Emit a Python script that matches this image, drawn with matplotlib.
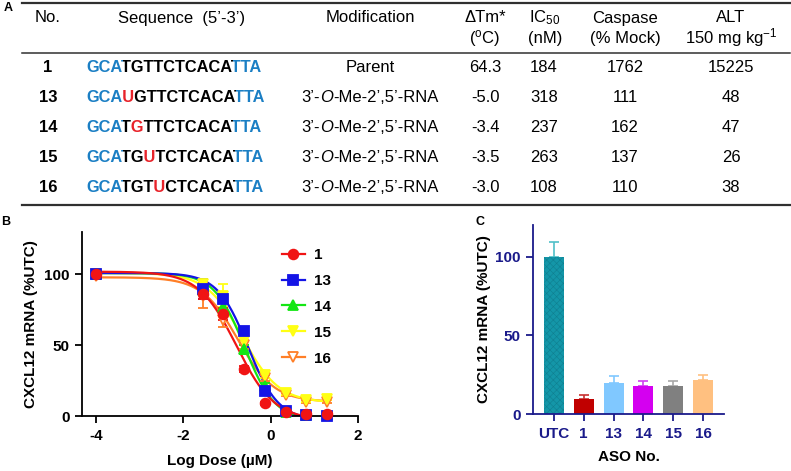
import numpy as np
import matplotlib
matplotlib.use("Agg")
import matplotlib.pyplot as plt
from matplotlib.lines import Line2D
from matplotlib.transforms import Bbox

plt.rcParams['font.family'] = ['Liberation Sans', 'DejaVu Sans']
plt.rcParams['mathtext.fontset'] = 'custom'
plt.rcParams['mathtext.rm'] = 'Liberation Sans'
plt.rcParams['mathtext.it'] = 'Liberation Sans:italic'
plt.rcParams['mathtext.bf'] = 'Liberation Sans:bold'
plt.rcParams['axes.unicode_minus'] = False
plt.rcParams['hatch.linewidth'] = 0.4

W, H = 791, 471

# ---- table (panel A)
aso_no = ['1', '13', '14', '15', '16']
sequences = ['GCATGTTCTCACATTA', 'GCAUGTTCTCACATTA', 'GCATGTTCTCACATTA',
             'GCATGUTCTCACATTA', 'GCATGTUCTCACATTA']
mod_pos = [None, 3, 4, 5, 6]
modification = ['Parent', 'mod', 'mod', 'mod', 'mod']
delta_tm = ['64.3', '-5.0', '-3.4', '-3.5', '-3.0']
ic50 = ['184', '318', '237', '263', '108']
caspase = ['1762', '111', '162', '137', '110']
alt = ['15225', '48', '47', '26', '38']

# ---- dose response (panel B)
log_dose = [-4, -1.56, -1.08, -0.61, -0.13, 0.35, 0.82, 1.3]
resp = {
    '1':  [100, 86, 72, 33, 9, 2.5, 1.5, 1.2],
    '13': [100, 90, 83, 60, 18, 3.5, 0.5, 0.3],
    '14': [100, 89, 77, 47, 21, 3, 1, 0.5],
    '15': [100, 93, 85, 53, 29, 16, 11, 12],
    '16': [99, 85, 68, 50, 27, 15, 10, 10],
}
resp_err = {
    '1':  [0, 3, 4, 2, 1, 1, 0.5, 0.5],
    '13': [0, 7, 3, 2, 2, 1, 0.5, 0.5],
    '14': [0, 3, 3, 3, 2, 1, 0.5, 0.5],
    '15': [0, 3, 8, 3, 2, 1, 1, 1],
    '16': [0, 9, 5, 3, 2, 1, 1, 1],
}
# 4PL fit parameters: top, bottom, logIC50, hill
fit_top = {'1': 102, '13': 101, '14': 101, '15': 101, '16': 98}
fit_bottom = {'1': -3, '13': -3, '14': -3, '15': 9.5, '16': 10}
fit_logic50 = {'1': -0.78, '13': -0.52, '14': -0.60, '15': -0.64, '16': -0.75}
fit_hill = {'1': 1.0, '13': 1.25, '14': 1.25, '15': 1.05, '16': 1.05}

series_colors = {'1': '#F01414', '13': '#1414E6', '14': '#14E614',
                 '15': '#FFFF14', '16': '#FF7F27'}
series_markers = {'1': 'o', '13': 's', '14': '^', '15': 'v', '16': 'v'}

# ---- bars (panel C)
bar_labels = ['UTC', '1', '13', '14', '15', '16']
bar_values = [100, 9.8, 20, 17.8, 18, 21.5]
bar_err = [9, 2.5, 4, 3.2, 3, 3]
bar_colors = ['#1496A8', '#C00000', '#80C8FF', '#D400F0', '#808080', '#FFC080']
err_colors = ['#50C0C8', '#C83030', '#80C8FF', '#D040F0', '#A8A8A8', '#FFC080']

BLUE = '#1B7FC4'
RED = '#E8232A'
NAVY = '#1A1A8A'

fig = plt.figure(figsize=(W / 100, H / 100), dpi=100)
renderer = fig.canvas.get_renderer()


def fx(x):
    return x / W


def fy(y):
    return 1 - y / H


def text_width(s, size, weight='normal', style='normal'):
    t = fig.text(0, 0, s, fontsize=size, fontweight=weight, fontstyle=style)
    w = t.get_window_extent(renderer=renderer).width
    t.remove()
    return w


def draw_colored_seq(x, y, seq, colors, size):
    # the whole string is drawn once per colour run and clipped to that run,
    # so the glyph spacing stays exactly that of the full word
    bounds = [x - 10]
    for k in range(1, len(seq)):
        bounds.append(x + text_width(seq[:k], size, 'bold') + 0.6)
    bounds.append(x + 400)
    k = 0
    while k < len(seq):
        m = k
        while m + 1 < len(seq) and colors[m + 1] == colors[k]:
            m += 1
        t = fig.text(fx(x), fy(y), seq, color=colors[k], fontsize=size,
                     fontweight='bold', va='center', ha='left')
        t.set_clip_box(Bbox([[bounds[k], 0], [bounds[m + 1], H]]))
        k = m + 1


def draw_runs(x, y, runs, size):
    # centred text made of pieces with different styles
    widths = [text_width(txt, size, wt, st) for txt, wt, st in runs]
    start = x - sum(widths) / 2
    for (txt, wt, st), w in zip(runs, widths):
        fig.text(fx(start), fy(y), txt, fontsize=size, fontweight=wt,
                 fontstyle=st, va='center', ha='left')
        start += w


def hline(y, lw, x0=22, x1=790):
    fig.add_artist(Line2D([fx(x0), fx(x1)], [fy(y), fy(y)], transform=fig.transFigure,
                          color='#303030', lw=lw))


FS = 12
fig.text(fx(8), fy(8), 'A', fontsize=9, fontweight='bold', ha='center', va='center')
hline(3, 1.6)
hline(53, 1.1)
hline(205, 1.6)

hdr1 = [(48, 'No.'), (182, 'Sequence  (5’-3’)'), (370, 'Modification'),
        (485, 'ΔTm*'), (545, 'IC$_{50}$'), (625, 'Caspase'), (731, 'ALT')]
for x, s in hdr1:
    fig.text(fx(x), fy(18), s, fontsize=FS, ha='center', va='center')
hdr2 = [(485, '($^{\\rm o}$C)'), (545, '(nM)'), (625, '(% Mock)'), (731, '150 mg kg$^{-1}$')]
for x, s in hdr2:
    fig.text(fx(x), fy(38), s, fontsize=FS, ha='center', va='center')

for i in range(len(aso_no)):
    y = 68 + 30 * i
    fig.text(fx(48), fy(y), aso_no[i], fontsize=FS, fontweight='bold', ha='center', va='center')
    seq = sequences[i]
    cols = []
    for j in range(len(seq)):
        if j == mod_pos[i]:
            cols.append(RED)
        elif j < 3 or j >= len(seq) - 3:
            cols.append(BLUE)
        else:
            cols.append('black')
    draw_colored_seq(86, y, seq, cols, 11.8)
    if modification[i] == 'Parent':
        fig.text(fx(370), fy(y), 'Parent', fontsize=FS, ha='center', va='center')
    else:
        draw_runs(370, y, [('3’-', 'normal', 'normal'),
                           ('O', 'normal', 'italic'),
                           ('-Me-2’,5’-RNA', 'normal', 'normal')], FS)
    for x, col in [(485, delta_tm), (544, ic50), (625, caspase), (731, alt)]:
        fig.text(fx(x), fy(y), col[i], fontsize=FS, ha='center', va='center')

# ---- panel B
fig.text(fx(6), fy(222), 'B', fontsize=9, fontweight='bold', ha='center', va='center')
ax = fig.add_axes([fx(82), fy(416), (358 - 82) / W, (416 - 232) / H])
fit_x = np.linspace(-4, 1.3, 300)
handles = []
for key in ['16', '15', '14', '13', '1']:
    c = series_colors[key]
    top, bot = fit_top[key], fit_bottom[key]
    fit_y = bot + (top - bot) / (1 + 10 ** ((fit_x - fit_logic50[key]) * fit_hill[key]))
    ax.plot(fit_x, fit_y, color=c, lw=1.6, zorder=2)
    face = 'white' if key == '16' else c
    ax.errorbar(log_dose, resp[key], yerr=resp_err[key], fmt='none', ecolor=c,
                elinewidth=1.3, capsize=3.5, capthick=1.3, zorder=3)
    ax.plot(log_dose, resp[key], ls='none', marker=series_markers[key], ms=7,
            mfc=face, mec=c, mew=1.3, clip_on=False, zorder=4)
for key in ['1', '13', '14', '15', '16']:
    c = series_colors[key]
    face = 'white' if key == '16' else c
    handles.append(Line2D([], [], color=c, lw=1.6, marker=series_markers[key], ms=7,
                          mfc=face, mec=c, mew=1.3))
ax.legend(handles, ['1', '13', '14', '15', '16'], loc='upper left',
          bbox_to_anchor=(fx(282), fy(248)), bbox_transform=fig.transFigure,
          frameon=False, borderpad=0, borderaxespad=0, handlelength=1.5,
          handletextpad=0.6, labelspacing=0.78, prop={'weight': 'bold', 'size': 11})
ax.set_xlim(-4.32, 2)
ax.set_ylim(0, 130)
ax.set_xticks([-4, -2, 0, 2])
ax.set_yticks([0, 50, 100])
for s in ['top', 'right']:
    ax.spines[s].set_visible(False)
for s in ['left', 'bottom']:
    ax.spines[s].set_linewidth(1.3)
ax.tick_params(width=1.3, length=5, labelsize=11, pad=4)
for lab in ax.get_xticklabels() + ax.get_yticklabels():
    lab.set_fontweight('bold')
ax.set_xlabel('Log Dose (µM)', fontsize=11, fontweight='bold', labelpad=8)
ax.set_ylabel('CXCL12 mRNA (%UTC)', fontsize=11, fontweight='bold', labelpad=4)

# ---- panel C
fig.text(fx(480), fy(222), 'C', fontsize=9, fontweight='bold', ha='center', va='center')
axc = fig.add_axes([fx(533), fy(414), (724 - 533) / W, (414 - 225) / H])
xpos = np.arange(len(bar_labels))
for i in range(len(bar_labels)):
    axc.errorbar(xpos[i], bar_values[i], yerr=[[0], [bar_err[i]]], fmt='none',
                 ecolor=err_colors[i], elinewidth=1.2, capsize=3.5, capthick=1.2, zorder=1)
    if i == 0:
        axc.bar(xpos[i], bar_values[i], width=0.67, color=bar_colors[i],
                edgecolor='#0F7F90', lw=0, hatch='xxxxx', zorder=2)
    else:
        axc.bar(xpos[i], bar_values[i], width=0.67, color=bar_colors[i], lw=0, zorder=2)
axc.set_xlim(-0.69, 5.69)
axc.set_ylim(0, 120)
axc.set_xticks(xpos)
axc.set_xticklabels(bar_labels)
axc.set_yticks([0, 50, 100])
for s in ['top', 'right']:
    axc.spines[s].set_visible(False)
for s in ['left', 'bottom']:
    axc.spines[s].set_linewidth(1.3)
    axc.spines[s].set_color(NAVY)
axc.tick_params(width=1.3, length=5, labelsize=11, colors=NAVY, pad=4)
for lab in axc.get_xticklabels() + axc.get_yticklabels():
    lab.set_fontweight('bold')
axc.set_xlabel('ASO No.', fontsize=11, fontweight='bold', labelpad=7)
axc.set_ylabel('CXCL12 mRNA (%UTC)', fontsize=11, fontweight='bold', labelpad=3)

fig.savefig('out.png', dpi=100)
